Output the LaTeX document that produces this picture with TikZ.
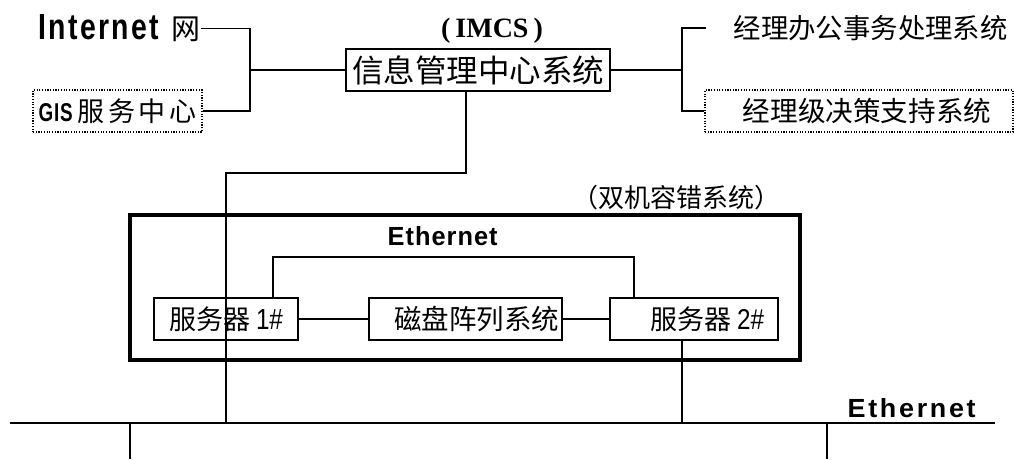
\documentclass[tikz,border=0pt]{standalone}
\usepackage{fontspec}
\usepackage{graphicx}
\setmainfont{Liberation Sans}
\newfontfamily\cjk{Noto Sans CJK SC}
\newfontfamily\tms{Liberation Serif}
\newcommand\fs[1]{\fontsize{#1}{#1}\selectfont}
\newcommand\lat[4]{\resizebox{#1pt}{#2pt}{\addfontfeature{LetterSpace=#3}#4}}
\begin{document}
\begin{tikzpicture}[x=1pt,y=-1pt,
  line width=1.3pt,
  txt/.style={inner sep=0pt},
  box/.style={draw, line width=1.3pt, inner sep=0pt},
  dotbox/.style={draw, line width=1.2pt, dash pattern=on 1.2pt off 1.5pt, inner sep=0pt},
  wire/.style={line width=1.3pt}]
\useasboundingbox (0,0) rectangle (1014,459);

% top row
\node[txt, anchor=west] (internet) at (38,28.5) {\lat{120}{25}{8}{\bfseries Internet}\hspace{13pt}{\cjk\fs{29}网}};
\node[dotbox, minimum width=169pt, minimum height=42pt] (gis) at (117.5,111) {\lat{34}{18}{4}{\bfseries GIS}\hspace{5pt}{\cjk\fs{27}服\hspace{3.5pt}务\hspace{3.5pt}中\hspace{3.5pt}心}};
\node[txt] (imcslabel) at (492,31) {\tms\bfseries\fs{28}(\hspace{5pt}IMCS\hspace{5pt})};
\node[box, minimum width=264pt, minimum height=42pt] (imcs) at (478,70) {\cjk\fs{31.5}信息管理中心系统};
\node[txt, anchor=west] (oa) at (733,28) {\cjk\fs{27.4}经理办公事务处理系统};
\node[dotbox, minimum width=308pt, minimum height=42pt] (dss) at (859,111) {\hspace{16pt}\cjk\fs{27.6}经理级决策支持系统};

\coordinate (j1) at (250,70);
\coordinate (j2) at (682,70);
\coordinate (oaend) at (706,28);
\draw[wire] (internet.east) -| (j1);
\draw[wire] (gis.east) -| (j1);
\draw[wire] (j1) -- (imcs.west);
\draw[wire] (imcs.east) -- (j2);
\draw[wire] (j2) |- (oaend);
\draw[wire] (j2) |- (dss.west);

% dual-machine fault tolerant system
\node[txt] (duallabel) at (676,198) {\cjk\fs{26}（双机容错系统）};
\node[draw, line width=4.5pt, minimum width=670pt, minimum height=145pt, inner sep=0pt] (frame) at (465,287.5) {};
\node[txt, anchor=base west] (eth1) at (387,245) {\lat{110}{19}{4}{\bfseries Ethernet}};

\node[box, minimum width=144pt, minimum height=42pt] (srv1) at (226,319) {{\cjk\fs{27}服务器}\hspace{6pt}\lat{27}{20}{0}{1\#}};
\node[box, minimum width=193pt, minimum height=42pt] (disk) at (465.5,319) {\hspace{22pt}\cjk\fs{27.5}磁盘阵列系统};
\node[box, minimum width=168pt, minimum height=42pt] (srv2) at (694,319) {\hspace{26pt}{\cjk\fs{27}服务器}\hspace{6pt}\lat{27}{20}{0}{2\#}};

\draw[wire] (srv1.east) -- (disk.west);
\draw[wire] (disk.east) -- (srv2.west);
\coordinate (e1) at (273,257);
\coordinate (e2) at (634,257);
\draw[wire] (srv1.north -| e1) -- (e1) -- (e2) -- (srv2.north -| e2);

% backbone
\coordinate (d1) at (466,173);
\coordinate (bus1) at (226,423);
\coordinate (bus2) at (682,423);
\coordinate (busL) at (10,423);
\coordinate (busR) at (995,423);
\coordinate (drop1) at (130,459);
\coordinate (drop2) at (827,459);
\draw[wire] (imcs.south -| d1) -- (d1) -| (bus1);
\draw[wire] (srv2.south -| bus2) -- (bus2);
\draw[wire] (busL) -- (busR);
\draw[wire] (drop1 |- busL) -- (drop1);
\draw[wire] (drop2 |- busL) -- (drop2);
\node[txt, anchor=base west] (eth2) at (847,417) {\lat{128}{19}{10}{\bfseries Ethernet}};
\end{tikzpicture}
\end{document}
